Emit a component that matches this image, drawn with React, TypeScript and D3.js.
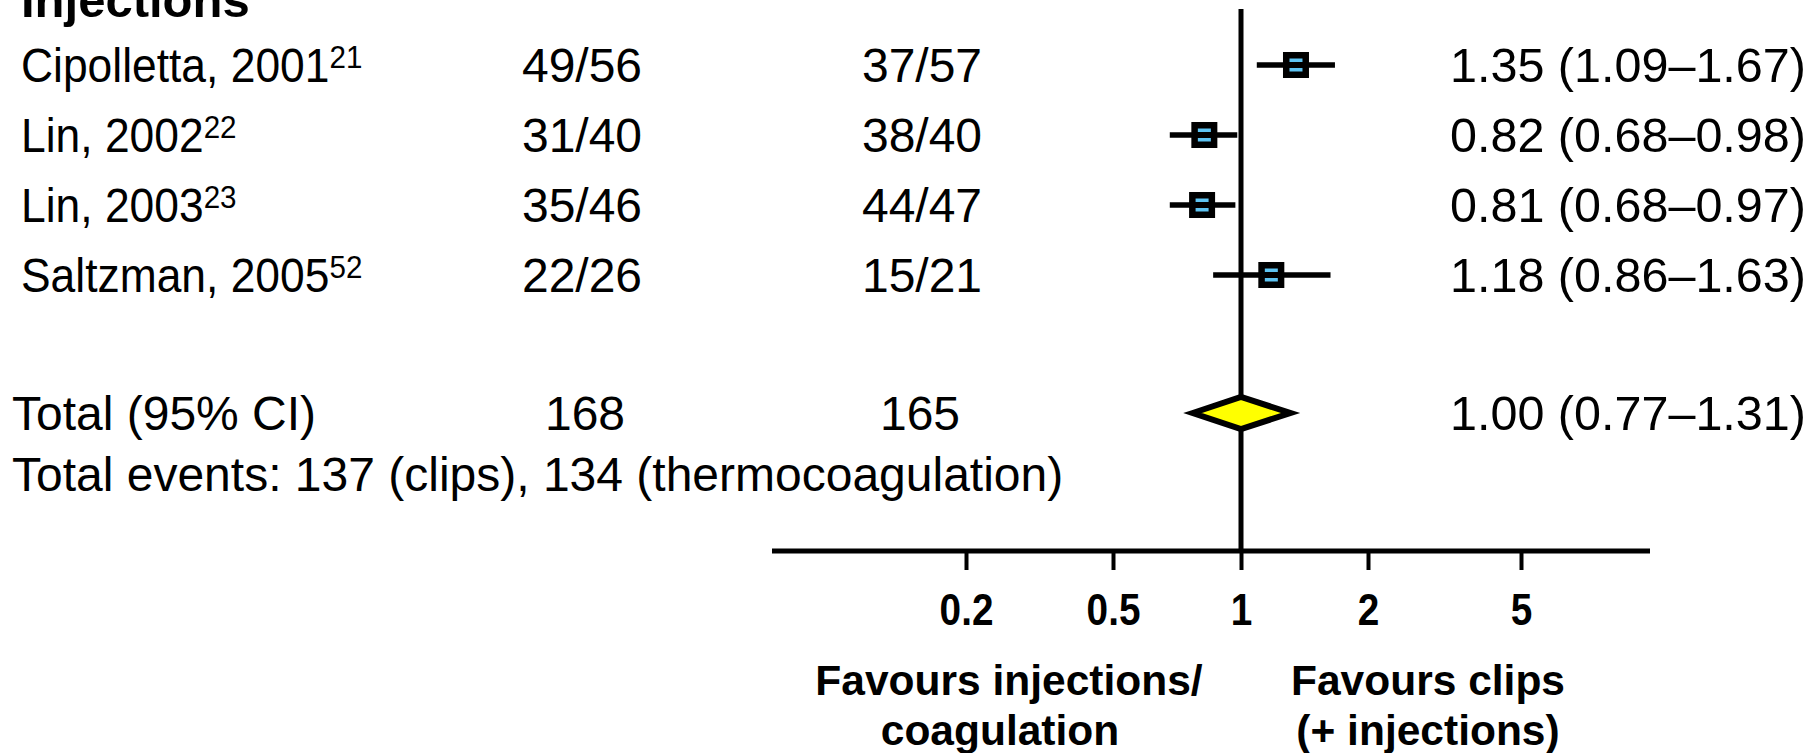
import React, { useEffect, useRef } from 'react';
import * as d3 from 'd3';

// study rows
const studies = ['Cipolletta, 2001', 'Lin, 2002', 'Lin, 2003', 'Saltzman, 2005'];
const refs = ['21', '22', '23', '52'];
const clipsEvents = ['49/56', '31/40', '35/46', '22/26'];
const thermoEvents = ['37/57', '38/40', '44/47', '15/21'];
const ratio = [1.35, 0.82, 0.81, 1.18];
const ciLow = [1.09, 0.68, 0.68, 0.86];
const ciHigh = [1.67, 0.98, 0.97, 1.63];

// pooled
const totalLabel = 'Total (95% CI)';
const totalClips = '168';
const totalThermo = '165';
const totalRatio = 1.0;
const totalLow = 0.77;
const totalHigh = 1.31;
const eventsLabel = 'Total events: 137 (clips), 134 (thermocoagulation)';

const tickValues = [0.2, 0.5, 1, 2, 5];
const favoursLeft = ['Favours injections/', 'coagulation'];
const favoursRight = ['Favours clips', '(+ injections)'];

const fmt = (v: number) => v.toFixed(2);

const App: React.FC = () => {
  const svgRef = useRef<SVGSVGElement | null>(null);
  const width = 1812;
  const height = 753;
  const font = '"Liberation Sans", Arial, Helvetica, sans-serif';

  useEffect(() => {
    const svg = d3.select(svgRef.current);
    svg.selectAll('*').remove();

    // piecewise log scale, matching the printed tick spacing
    const x = d3.scaleLog().domain(tickValues).range([966, 1113, 1241, 1368, 1521]);
    const y = d3
      .scaleLinear()
      .domain([0, studies.length - 1])
      .range([65, 275]);
    const yTotal = 413;
    const yEvents = 474;
    const axisY = 551;
    const base = 17; // baseline offset from row centre

    const text = svg
      .append('g')
      .style('font-family', font)
      .style('font-size', '48px')
      .attr('fill', '#000');

    // header (cut off at top)
    text
      .append('text')
      .attr('x', 21)
      .attr('y', 17)
      .style('font-size', '49px')
      .style('font-weight', 'bold')
      .text('Injections');

    // study names with superscript refs (slightly condensed)
    studies.forEach((s, i) => {
      const t = text
        .append('text')
        .attr('transform', `translate(21, ${y(i) + base}) scale(0.925, 1)`);
      t.append('tspan').text(s);
      t.append('tspan').attr('dy', -14).style('font-size', '32px').text(refs[i]);
    });

    text
      .selectAll('.clips')
      .data(clipsEvents)
      .join('text')
      .attr('x', 582)
      .attr('y', (d, i) => y(i) + base)
      .attr('text-anchor', 'middle')
      .text((d) => d);

    text
      .selectAll('.thermo')
      .data(thermoEvents)
      .join('text')
      .attr('x', 922)
      .attr('y', (d, i) => y(i) + base)
      .attr('text-anchor', 'middle')
      .text((d) => d);

    text
      .selectAll('.rr')
      .data(ratio)
      .join('text')
      .attr('x', 1450)
      .attr('y', (d, i) => y(i) + base)
      .style('font-size', '48.5px')
      .text((d, i) => `${fmt(d)} (${fmt(ciLow[i])}–${fmt(ciHigh[i])})`);

    // total row
    text.append('text').attr('x', 12).attr('y', yTotal + base).text(totalLabel);
    text
      .append('text')
      .attr('x', 585)
      .attr('y', yTotal + base)
      .attr('text-anchor', 'middle')
      .text(totalClips);
    text
      .append('text')
      .attr('x', 920)
      .attr('y', yTotal + base)
      .attr('text-anchor', 'middle')
      .text(totalThermo);
    text
      .append('text')
      .attr('x', 1450)
      .attr('y', yTotal + base)
      .style('font-size', '48.5px')
      .text(`${fmt(totalRatio)} (${fmt(totalLow)}–${fmt(totalHigh)})`);
    text.append('text').attr('x', 12).attr('y', yEvents + base).text(eventsLabel);

    // line of no effect
    svg
      .append('line')
      .attr('x1', x(1))
      .attr('x2', x(1))
      .attr('y1', 9)
      .attr('y2', axisY)
      .attr('stroke', '#000')
      .attr('stroke-width', 5);

    // axis
    const axis = svg
      .append('g')
      .attr('transform', `translate(0, ${axisY})`)
      .call(
        d3
          .axisBottom(x)
          .tickValues(tickValues)
          .tickSize(19)
          .tickPadding(24)
          .tickFormat((d) => String(d)),
      );
    axis.select('.domain').remove();
    axis
      .append('line')
      .attr('x1', 772)
      .attr('x2', 1650)
      .attr('stroke', '#000')
      .attr('stroke-width', 5);
    axis.selectAll('.tick line').attr('stroke', '#000').attr('stroke-width', 4);
    axis
      .selectAll('.tick text')
      .attr('fill', '#000')
      .attr('transform', 'scale(0.88, 1)')
      .style('font-family', font)
      .style('font-size', '44px')
      .style('font-weight', 'bold');

    // favours labels
    const fav = svg
      .append('g')
      .style('font-family', font)
      .style('font-size', '42.5px')
      .style('font-weight', 'bold')
      .attr('text-anchor', 'middle');
    favoursLeft.forEach((l, i) => {
      fav
        .append('text')
        .attr('x', i === 0 ? 1009 : 1000)
        .attr('y', 695 + i * 50)
        .text(l);
    });
    favoursRight.forEach((l, i) => {
      fav
        .append('text')
        .attr('x', 1428)
        .attr('y', 695 + i * 50)
        .text(l);
    });

    // CI lines
    svg
      .selectAll('.ci')
      .data(ratio)
      .join('line')
      .attr('x1', (d, i) => x(ciLow[i]))
      .attr('x2', (d, i) => x(ciHigh[i]))
      .attr('y1', (d, i) => y(i))
      .attr('y2', (d, i) => y(i))
      .attr('stroke', '#000')
      .attr('stroke-width', 5.5);

    // study markers
    const sq = 26;
    const marks = svg
      .selectAll('.mark')
      .data(ratio)
      .join('g')
      .attr('transform', (d, i) => `translate(${x(d)}, ${y(i)})`);
    marks
      .append('rect')
      .attr('x', -sq / 2)
      .attr('y', -sq / 2)
      .attr('width', sq)
      .attr('height', sq)
      .attr('fill', '#000');
    [-6.5, 3].forEach((off) => {
      marks
        .append('rect')
        .attr('x', -6.5)
        .attr('y', off)
        .attr('width', 13)
        .attr('height', 3.5)
        .attr('fill', '#5EC4F2');
    });

    // pooled diamond
    const dh = 16;
    const pts: [number, number][] = [
      [x(totalLow), yTotal],
      [x(totalRatio), yTotal - dh],
      [x(totalHigh), yTotal],
      [x(totalRatio), yTotal + dh],
    ];
    svg
      .append('path')
      .attr('d', d3.line()(pts) + 'Z')
      .attr('fill', '#FFFF00')
      .attr('stroke', '#000')
      .attr('stroke-width', 6)
      .attr('stroke-linejoin', 'miter')
      .attr('stroke-miterlimit', 10);
  }, []);

  return (
    <svg
      ref={svgRef}
      width={width}
      height={height}
      style={{ position: 'absolute', left: 0, top: 0, background: '#fff' }}
    ></svg>
  );
};

export default App;
